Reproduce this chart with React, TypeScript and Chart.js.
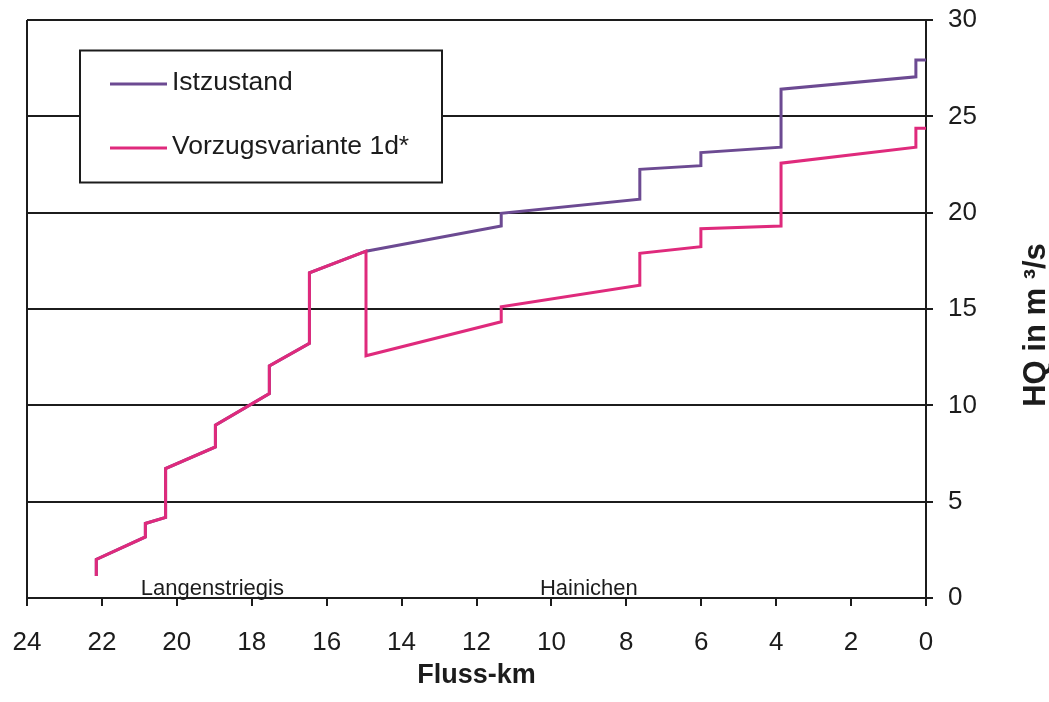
import React, { useEffect, useRef } from 'react';
import { Chart, registerables } from 'chart.js';

Chart.register(...registerables);

const FONT = "'Liberation Sans', Arial, Helvetica, sans-serif";
const INK = '#1c1c1c';

// Design discharge HQ (m³/s) along the river, river kilometre counted from the mouth.
// Steps mark tributary inflows; points repeat a km value at every step.
const istzustandKm = [22.15, 22.15, 20.84, 20.84, 20.3, 20.3, 18.97, 18.97, 17.53, 17.53, 16.46, 16.46, 14.95, 11.34, 11.34, 7.64, 7.64, 6.01, 6.01, 3.87, 3.87, 0.27, 0.27, 0];
const istzustandHQ = [1.14, 2.0, 3.17, 3.87, 4.18, 6.72, 7.84, 8.97, 10.61, 12.05, 13.22, 16.88, 18.0, 19.31, 19.97, 20.7, 22.25, 22.44, 23.12, 23.4, 26.41, 27.05, 27.93, 27.93];

const vorzugKm = [22.15, 22.15, 20.84, 20.84, 20.3, 20.3, 18.97, 18.97, 17.53, 17.53, 16.46, 16.46, 14.95, 14.95, 11.34, 11.34, 7.64, 7.64, 6.01, 6.01, 3.87, 3.87, 0.27, 0.27, 0];
const vorzugHQ = [1.14, 2.0, 3.17, 3.87, 4.18, 6.72, 7.84, 8.97, 10.61, 12.05, 13.22, 16.88, 18.0, 12.57, 14.34, 15.12, 16.24, 17.89, 18.23, 19.17, 19.31, 22.57, 23.4, 24.38, 24.38];

const seriesLabels = ['Istzustand', 'Vorzugsvariante 1d*'];
const seriesColors = ['#6c4a92', '#df2a7c'];

// Towns along the river
const placeNames = ['Langenstriegis', 'Hainichen'];
const placeKm = [19.05, 9.0];

// Axis ranges and tick spacing
const kmRange = [0, 24];
const kmStep = 2;
const hqRange = [0, 30];
const hqStep = 5;

const xTitle = 'Fluss-km';
const yTitle = 'HQ in m ³/s';

const toPoints = (xs: number[], ys: number[]) => xs.map((x, i) => ({ x, y: ys[i] }));

// Framed legend box inside the plot area
const boxLegend = {
  id: 'boxLegend',
  afterDatasetsDraw(chart: any) {
    const { ctx, chartArea } = chart;
    const x0 = chartArea.left + 53;
    const y0 = chartArea.top + 30.5;
    const w = 362;
    const h = 132;
    ctx.save();
    ctx.fillStyle = '#ffffff';
    ctx.fillRect(x0, y0, w, h);
    ctx.strokeStyle = INK;
    ctx.lineWidth = 2;
    ctx.strokeRect(x0, y0, w, h);
    chart.data.datasets.forEach((ds: any, i: number) => {
      const y = y0 + 33.5 + i * 64;
      ctx.strokeStyle = ds.borderColor;
      ctx.lineWidth = 3;
      ctx.beginPath();
      ctx.moveTo(x0 + 30, y);
      ctx.lineTo(x0 + 87, y);
      ctx.stroke();
      ctx.fillStyle = INK;
      ctx.font = `26.5px ${FONT}`;
      ctx.textAlign = 'left';
      ctx.textBaseline = 'middle';
      ctx.fillText(ds.label, x0 + 92, y - 1);
    });
    ctx.restore();
  },
};

// Town names sitting on the km axis
const placeLabels = {
  id: 'placeLabels',
  afterDatasetsDraw(chart: any) {
    const { ctx } = chart;
    const xs = chart.scales.x;
    const ys = chart.scales.y;
    ctx.save();
    ctx.fillStyle = INK;
    ctx.font = `22px ${FONT}`;
    ctx.textAlign = 'center';
    ctx.textBaseline = 'alphabetic';
    placeNames.forEach((name, i) => {
      ctx.fillText(name, xs.getPixelForValue(placeKm[i]), ys.getPixelForValue(0) - 3);
    });
    ctx.restore();
  },
};

// Right-hand axis title, reading bottom to top
const rightTitle = {
  id: 'rightTitle',
  afterDraw(chart: any) {
    const { ctx, chartArea } = chart;
    ctx.save();
    ctx.translate(chartArea.right + 110, (chartArea.top + chartArea.bottom) / 2 + 16);
    ctx.rotate(-Math.PI / 2);
    ctx.fillStyle = INK;
    ctx.font = `bold 31px ${FONT}`;
    ctx.textAlign = 'center';
    ctx.textBaseline = 'middle';
    ctx.fillText(yTitle, 0, 0);
    ctx.restore();
  },
};

export default function App() {
  const canvasRef = useRef<HTMLCanvasElement | null>(null);

  useEffect(() => {
    if (!canvasRef.current) return;
    const chart = new Chart(canvasRef.current, {
      type: 'line',
      data: {
        datasets: [
          {
            label: seriesLabels[0],
            data: toPoints(istzustandKm, istzustandHQ),
            borderColor: seriesColors[0],
            backgroundColor: seriesColors[0],
            borderWidth: 3,
            pointRadius: 0,
            tension: 0,
            fill: false,
            order: 1,
          },
          {
            label: seriesLabels[1],
            data: toPoints(vorzugKm, vorzugHQ),
            borderColor: seriesColors[1],
            backgroundColor: seriesColors[1],
            borderWidth: 3,
            pointRadius: 0,
            tension: 0,
            fill: false,
            order: 0,
          },
        ],
      },
      options: {
        animation: false,
        responsive: false,
        devicePixelRatio: 1,
        layout: { padding: { left: 27, top: 20, right: 0, bottom: 0 } },
        plugins: {
          legend: { display: false },
          tooltip: { enabled: false },
        },
        scales: {
          x: {
            type: 'linear',
            reverse: true,
            min: kmRange[0],
            max: kmRange[1],
            afterFit: (scale: any) => {
              scale.height = 104;
              scale.paddingLeft = 0;
              scale.paddingRight = 0;
            },
            ticks: {
              stepSize: kmStep,
              color: INK,
              padding: 21,
              maxRotation: 0,
              font: { family: FONT, size: 26 },
            },
            grid: {
              color: (c: any) => (c.tick && c.tick.value === kmRange[1] ? INK : 'rgba(0,0,0,0)'),
              tickColor: INK,
              lineWidth: 2,
              tickLength: 8,
              drawTicks: true,
            },
            border: { display: true, color: INK, width: 2 },
            title: {
              display: true,
              text: xTitle,
              color: INK,
              font: { family: FONT, size: 27, weight: 'bold' },
              padding: { top: 0, bottom: 10 },
            },
          },
          y: {
            type: 'linear',
            position: 'right',
            min: hqRange[0],
            max: hqRange[1],
            afterFit: (scale: any) => {
              scale.width = 123;
              scale.paddingTop = 0;
              scale.paddingBottom = 0;
            },
            ticks: {
              stepSize: hqStep,
              color: INK,
              padding: 15,
              font: { family: FONT, size: 26 },
            },
            grid: {
              color: INK,
              lineWidth: 2,
              tickLength: 7,
              drawTicks: true,
            },
            border: { display: true, color: INK, width: 2 },
          },
        },
      },
      plugins: [boxLegend, placeLabels, rightTitle],
    } as any);
    return () => chart.destroy();
  }, []);

  return (
    <div style={{ position: 'absolute', left: 0, top: 0, width: 1049, height: 702, background: '#fff' }}>
      <canvas ref={canvasRef} width={1049} height={702} />
    </div>
  );
}
